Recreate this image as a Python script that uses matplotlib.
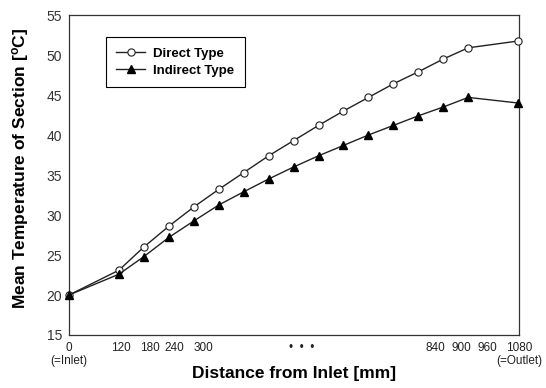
import matplotlib
matplotlib.use("Agg")
import matplotlib.pyplot as plt

# Данные: расстояние от входа [mm] и средняя температура сечения [°C]
distance = [0, 120, 180, 240, 300, 360, 420, 480, 540, 600, 660, 720, 780, 840, 900, 960, 1080]
direct_temp = [20.0, 23.1, 26.0, 28.6, 31.0, 33.2, 35.3, 37.4, 39.3, 41.2, 43.0, 44.7, 46.4,
               47.9, 49.5, 50.9, 51.75]
indirect_temp = [20.0, 22.6, 24.8, 27.2, 29.25, 31.25, 32.9, 34.5, 36.0, 37.4, 38.7, 40.0, 41.2,
                 42.4, 43.5, 44.7, 44.0]

x_tick_labels = ["0\n(=Inlet)", "120", "180", "240", "300", "\u2022  \u2022  \u2022",
                 "840", "900", "960", "1080\n(=Outlet)"]
y_ticks = [15, 20, 25, 30, 35, 40, 45, 50, 55]

plt.rcParams['font.family'] = ['Liberation Sans', 'DejaVu Sans']
plt.rcParams['mathtext.fontset'] = 'custom'
plt.rcParams['mathtext.rm'] = 'Liberation Sans:bold'
plt.rcParams['mathtext.bf'] = 'Liberation Sans:bold'
plt.rcParams['mathtext.default'] = 'rm'

fig = plt.figure(figsize=(5.46, 3.88), dpi=100)
ax = fig.add_axes([0.1264, 0.1366, 0.8241, 0.8247])

ax.plot(distance, direct_temp, color='#222222', lw=1.0, marker='o', ms=5.2,
        mfc='white', mec='#222222', mew=0.8, label='Direct Type', clip_on=False, zorder=3)
ax.plot(distance, indirect_temp, color='#222222', lw=1.0, marker='^', ms=5.5,
        mfc='black', mec='black', label='Indirect Type', clip_on=False, zorder=3)

ax.set_xlim(0, 1080)
ax.set_ylim(15, 55)
ax.set_yticks(y_ticks)

# подписи оси X стоят там, где они нарисованы в оригинале
label_pos = [0, 124, 194, 254, 324, 559, 881, 943, 1006, 1082]
ax.set_xticks(label_pos)
ax.set_xticklabels(x_tick_labels, fontsize=8.5, linespacing=1.15)
ax.tick_params(axis='x', length=0, pad=5, colors='#222222')
ax.tick_params(axis='y', length=0, pad=5, labelsize=10, colors='#333333')

for s in ax.spines.values():
    s.set_color('#333333')
    s.set_linewidth(0.9)

ax.set_xlabel("Distance from Inlet [mm]", fontsize=12.5, fontweight='bold', va='center')
ax.xaxis.set_label_coords(0.5, -0.119)
ax.set_ylabel(r"Mean Temperature of Section [$^{\mathrm{o}}$C]", fontsize=12.5,
              fontweight='bold', va='center')
ax.yaxis.set_label_coords(-0.107, 0.52)

leg = ax.legend(loc='upper left', bbox_to_anchor=(0.082, 0.931), frameon=True,
                fancybox=False, edgecolor='black', framealpha=1,
                prop={'weight': 'bold', 'size': 9.5}, handlelength=2.2,
                handletextpad=0.6, labelspacing=0.35, borderpad=0.8, borderaxespad=0)
leg.get_frame().set_linewidth(0.8)

plt.savefig("out.png", dpi=100)
